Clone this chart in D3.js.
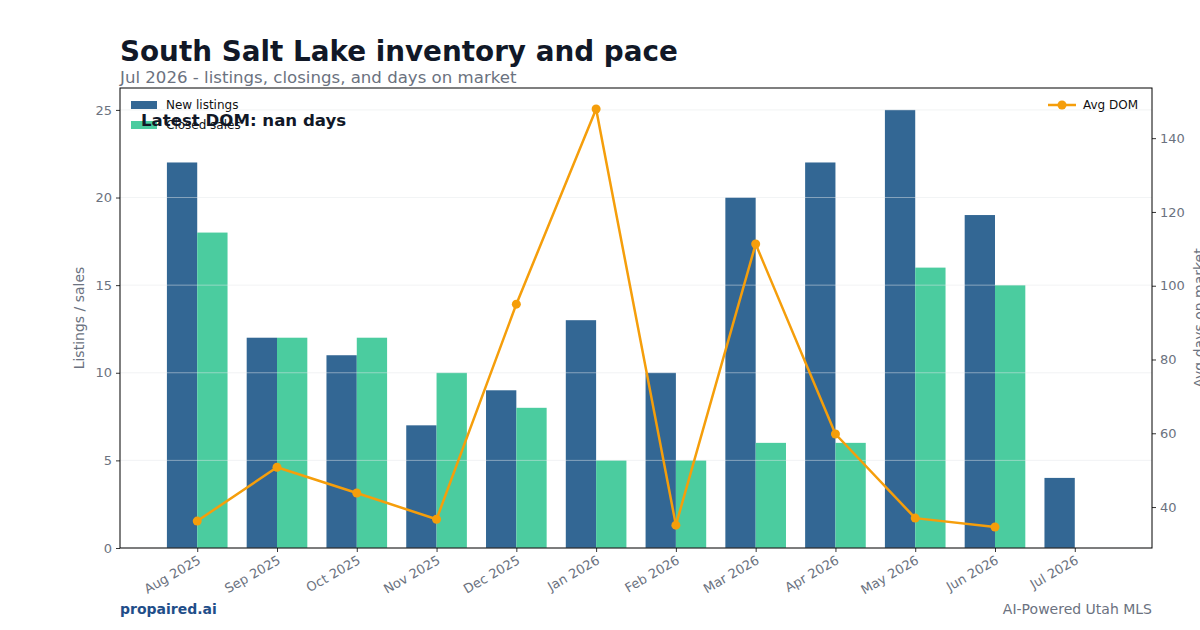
<!DOCTYPE html>
<meta charset="utf-8">
<style>
  body { margin: 0; background: #fff; }
  text { font-family: "DejaVu Sans", sans-serif; }
  .tick text { fill: #6b7280; font-size: 13px; }
  .tick line { stroke: #333; }
</style>
<body>
<div id="chart"></div>
<script src="https://d3js.org/d3.v7.min.js"></script>
<script>

// chart data
const months = ["Aug 2025", "Sep 2025", "Oct 2025", "Nov 2025", "Dec 2025", "Jan 2026",
                "Feb 2026", "Mar 2026", "Apr 2026", "May 2026", "Jun 2026", "Jul 2026"];
const newListings = [22, 12, 11, 7, 9, 13, 10, 20, 22, 25, 19, 4];
const closedSales = [18, 12, 12, 10, 8, 5, 5, 6, 6, 16, 15, 0];
const avgDom = [36.2, 50.8, 43.8, 36.7, 95.0, 147.9, 35.1, 111.3, 59.8, 37.0, 34.6, null];
const leftTicks = [0, 5, 10, 15, 20, 25];
const rightTicks = [40, 60, 80, 100, 120, 140];

const width = 1200, height = 630;
const margin = {top: 88, right: 48, bottom: 82, left: 120};
const plotW = width - margin.left - margin.right;
const plotH = height - margin.top - margin.bottom;

const svg = d3.select("#chart").append("svg")
    .attr("width", width)
    .attr("height", height);

const x = d3.scaleLinear().domain([-0.968, 11.968]).range([0, plotW]);
const y = d3.scaleLinear().domain([0, 26.25]).range([plotH, 0]);
const y2 = d3.scaleLinear().domain([28.9, 153.6]).range([plotH, 0]);
const barW = x(0.38) - x(0);

// title block
svg.append("text").attr("x", 120).attr("y", 61)
   .style("font-size", "27.8px").style("font-weight", "bold").style("fill", "#111827")
   .text("South Salt Lake inventory and pace");
svg.append("text").attr("x", 120).attr("y", 83)
   .style("font-size", "16.6px").style("fill", "#6b7280")
   .text("Jul 2026 - listings, closings, and days on market");

const g = svg.append("g").attr("transform", `translate(${margin.left},${margin.top})`);

// bars
g.selectAll(".new").data(newListings).enter().append("rect")
  .attr("x", (d, i) => x(i - 0.38))
  .attr("y", d => y(d))
  .attr("width", barW)
  .attr("height", d => plotH - y(d))
  .style("fill", "#336794");

g.selectAll(".closed").data(closedSales).enter().append("rect")
  .attr("x", (d, i) => x(i))
  .attr("y", d => y(d))
  .attr("width", barW)
  .attr("height", d => plotH - y(d))
  .style("fill", "#4bcc9f");

// gridlines (sit over the bars, faint)
g.selectAll(".grid").data(leftTicks).enter().append("line")
  .attr("x1", 0).attr("x2", plotW)
  .attr("y1", d => y(d)).attr("y2", d => y(d))
  .style("stroke", "#e5e7eb").style("stroke-width", 0.8).style("opacity", 0.6);

// DOM line
const domPts = avgDom.map((v, i) => ({i: i, v: v})).filter(d => d.v != null);
const line = d3.line().x(d => x(d.i)).y(d => y2(d.v));
g.append("path").datum(domPts)
  .attr("d", line)
  .style("fill", "none").style("stroke", "#f59e0b").style("stroke-width", 2.5)
  .style("stroke-linejoin", "round");
g.selectAll(".dot").data(domPts).enter().append("circle")
  .attr("cx", d => x(d.i)).attr("cy", d => y2(d.v)).attr("r", 4.5)
  .style("fill", "#f59e0b");

// axes
const xAxis = g.append("g").attr("transform", `translate(0,${plotH})`)
  .call(d3.axisBottom(x).tickValues(d3.range(months.length)).tickFormat(i => months[i]).tickSize(4).tickPadding(3));
xAxis.selectAll("text")
  .style("text-anchor", "end")
  .attr("dx", "-0.3em").attr("dy", "0.6em")
  .attr("transform", "rotate(-30)");

g.append("g")
  .call(d3.axisLeft(y).tickValues(leftTicks).tickSize(4).tickPadding(4));
g.append("g").attr("transform", `translate(${plotW},0)`)
  .call(d3.axisRight(y2).tickValues(rightTicks).tickSize(4).tickPadding(4));
g.selectAll(".domain").remove();

// frame
g.append("rect").attr("width", plotW).attr("height", plotH)
  .style("fill", "none").style("stroke", "#000").style("stroke-width", 1);

// axis labels
svg.append("text")
  .attr("transform", `translate(84,${margin.top + plotH / 2}) rotate(-90)`)
  .style("text-anchor", "middle").style("font-size", "14px").style("fill", "#6b7280")
  .text("Listings / sales");
svg.append("text")
  .attr("transform", `translate(1204,${margin.top + plotH / 2}) rotate(-90)`)
  .style("text-anchor", "middle").style("font-size", "14px").style("fill", "#6b7280")
  .text("Avg days on market");

// legends
const leg = [{label: "New listings", color: "#336794"}, {label: "Closed sales", color: "#4bcc9f"}];
leg.forEach((d, k) => {
  svg.append("rect").attr("x", 131).attr("y", 101 + k * 20).attr("width", 26).attr("height", 8)
     .style("fill", d.color);
  svg.append("text").attr("x", 166).attr("y", 109 + k * 20)
     .style("font-size", "12px").style("fill", "#111")
     .text(d.label);
});
svg.append("line").attr("x1", 1048).attr("x2", 1076).attr("y1", 105).attr("y2", 105)
   .style("stroke", "#f59e0b").style("stroke-width", 2.5);
svg.append("circle").attr("cx", 1062).attr("cy", 105).attr("r", 4.5).style("fill", "#f59e0b");
svg.append("text").attr("x", 1083).attr("y", 109)
   .style("font-size", "12px").style("fill", "#111").text("Avg DOM");

// annotation
svg.append("text").attr("x", 141).attr("y", 126)
   .style("font-size", "16.6px").style("font-weight", "bold").style("fill", "#111827")
   .text("Latest DOM: nan days");

// footer
svg.append("text").attr("x", 120).attr("y", 614)
   .style("font-size", "14px").style("font-weight", "bold").style("fill", "#1f4e89")
   .text("propaired.ai");
svg.append("text").attr("x", 1152).attr("y", 614)
   .style("text-anchor", "end").style("font-size", "14px").style("fill", "#6b7280")
   .text("AI-Powered Utah MLS");

</script>
</body>
